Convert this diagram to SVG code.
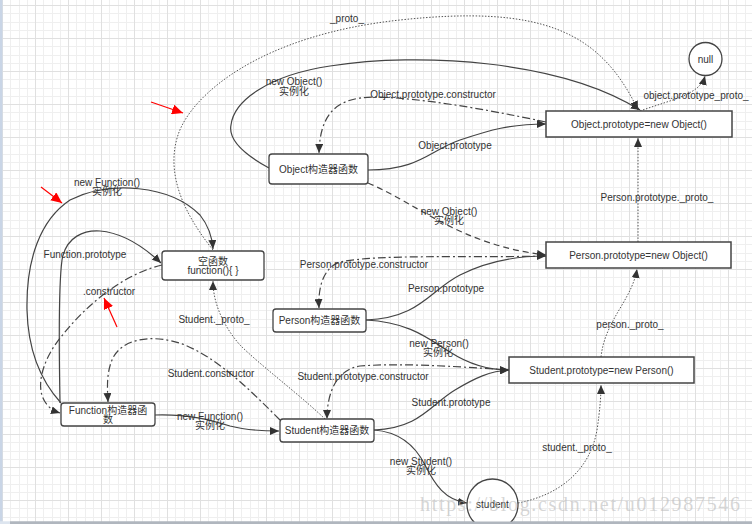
<svg xmlns="http://www.w3.org/2000/svg" width="752" height="524" viewBox="0 0 752 524">
<style>
text{font-family:"Liberation Sans","Noto Sans CJK SC",sans-serif;font-size:10px;fill:#333;text-anchor:middle}
.box{fill:#fff;stroke:#444;stroke-width:1.3}
.pbox{fill:#fff;stroke:#444;stroke-width:1.5}
.c{fill:none;stroke:#444;stroke-width:1.2}
.solid{marker-end:url(#ah)}
.dot{stroke-dasharray:1.5 1.6;stroke-width:1;stroke:#555;marker-end:url(#ah)}
.dd{stroke-dasharray:8 3 2 3;marker-end:url(#ah)}
.dash{stroke-dasharray:6 4;marker-end:url(#ah)}
.red{fill:none;stroke:#f00;stroke-width:1.2;marker-end:url(#rh)}
</style>
<defs>
<pattern id="grid" patternUnits="userSpaceOnUse" x="2" y="5" width="33" height="33">
<rect x="8" y="0" width="1" height="33" fill="#efefef"/>
<rect x="17" y="0" width="1" height="33" fill="#efefef"/>
<rect x="25" y="0" width="1" height="33" fill="#efefef"/>
<rect x="0" y="8" width="33" height="1" fill="#efefef"/>
<rect x="0" y="17" width="33" height="1" fill="#efefef"/>
<rect x="0" y="25" width="33" height="1" fill="#efefef"/>
<rect x="0" y="0" width="1" height="33" fill="#e0e0e0"/>
<rect x="0" y="0" width="33" height="1" fill="#e0e0e0"/>
</pattern>
<marker id="ah" markerUnits="userSpaceOnUse" markerWidth="10" markerHeight="8" refX="9" refY="4" orient="auto">
<path d="M0,0 L9,4 L0,8 z" fill="#333"/>
</marker>
<marker id="rh" markerUnits="userSpaceOnUse" markerWidth="12" markerHeight="10" refX="11" refY="5" orient="auto">
<path d="M0,0 L11,5 L0,10 z" fill="#f00"/>
</marker>
</defs>
<rect width="752" height="524" fill="#fff"/>
<rect width="752" height="524" fill="url(#grid)"/>
<rect x="0" y="0" width="2.5" height="524" fill="#c9d5e6"/>
<rect x="0" y="521.5" width="10" height="2.5" fill="#dde5ef"/>
<rect x="10" y="521.5" width="742" height="2.5" fill="#b0b6be"/>

<g id="connectors">
<path class="c dot" d="M213,250 C185,215 165,175 178,135 S260,35 400,20 S600,30 638,110"/>
<path class="c solid" d="M269,168 C245,155 228,140 231,125 C234,100 270,75 330,66 C420,52 560,60 640,110"/>
<path class="c dd" d="M546,122 C480,108 420,98 375,97 C335,97 320,115 319,153"/>
<path class="c solid" d="M368,170 C420,170 430,150 460,140 C490,130 510,124 546,124"/>
<path class="c dash" d="M368,183 C420,205 460,245 546,255"/>
<path class="c dd" d="M546,256 C460,258 380,254 340,262 C322,268 318,290 319,308"/>
<path class="c solid" d="M366,320 C420,318 430,290 460,275 C490,260 520,256 546,256"/>
<path class="c dot" d="M638,242 L638,138"/>
<path class="c dot" d="M640,111 C670,100 700,95 705,76"/>
<path class="c solid" d="M366,320 C410,322 430,340 450,352 C470,365 490,370 509,370"/>
<path class="c dd" d="M509,370 C450,366 400,363 360,366 C335,370 327,395 327,419"/>
<path class="c solid" d="M374,430 C420,428 430,405 455,390 C475,378 490,371 509,370"/>
<path class="c dot" d="M601,357 C605,320 632,300 637,269"/>
<path class="c dot" d="M518,503 C560,495 590,470 597,430 C600,410 601,395 601,385"/>
<path class="c solid" d="M374,430 C400,432 415,445 425,465 C435,485 445,500 467,503"/>
<path class="c solid" d="M61,403 C40,380 28,350 27,310 C26,260 40,220 70,200 C110,180 170,185 200,215 C208,225 212,235 213,249"/>
<path class="c solid" d="M60,403 C59,350 58,290 62,260 C66,236 85,230 100,231 C125,233 145,248 161,263"/>
<path class="c dd" d="M162,265 C120,275 80,310 55,345 C35,375 35,405 60,413"/>
<path class="c dd" d="M280,420 C250,390 220,360 185,345 C150,332 120,340 112,360 C107,372 107,385 108,402"/>
<path class="c dot" d="M325,419 C300,395 260,365 240,345 C225,328 213,305 213,281"/>
<path class="c solid" d="M155,415 C190,414 210,420 230,426 C245,430 260,431 279,431"/>

<text x="347" y="22">_proto_</text>
<text x="294" y="85">new Object()</text>
<text x="294" y="95">实例化</text>
<text x="433" y="98">Object.prototype.constructor</text>
<text x="455" y="149">Object.prototype</text>
<text x="696" y="99">object.prototype_proto_</text>
<text x="657" y="201">Person.prototype._proto_</text>
<text x="449" y="215">new Object()</text>
<text x="449" y="224">实例化</text>
<text x="364" y="268">Person.prototype.constructor</text>
<text x="446" y="292">Person.prototype</text>
<text x="630" y="328">person._proto_</text>
<text x="439" y="347">new Person()</text>
<text x="438" y="356">实例化</text>
<text x="363" y="380">Student.prototype.constructor</text>
<text x="451" y="406">Student.prototype</text>
<text x="577" y="451">student._proto_</text>
<text x="421" y="465">new Student()</text>
<text x="421" y="474">实例化</text>
<text x="107" y="186">new Function()</text>
<text x="107" y="195">实例化</text>
<text x="85" y="258">Function.prototype</text>
<text x="109" y="295">.constructor</text>
<text x="214" y="323">Student._proto_</text>
<text x="211" y="377">Student.constructor</text>
<text x="210" y="420">new Function()</text>
<text x="210" y="429">实例化</text>
</g>

<g id="null">
<circle cx="705.5" cy="59" r="16.5" fill="#fff" stroke="#444" stroke-width="1.3"/>
<text x="705.5" y="62.5">null</text>
</g>
<g id="object-prototype">
<rect class="pbox" x="546" y="111" width="186" height="26"/>
<text x="639" y="128">Object.prototype=new Object()</text>
</g>
<g id="object-ctor">
<rect class="box" x="269" y="154" width="99" height="30" rx="3"/>
<text x="318.5" y="172.5">Object构造器函数</text>
</g>
<g id="empty-fn">
<rect class="box" x="162" y="251" width="102" height="29" rx="3"/>
<text x="213" y="264.5">空函数</text>
<text x="213" y="274">function(){ }</text>
</g>
<g id="person-prototype">
<rect class="pbox" x="546" y="242" width="185" height="26"/>
<text x="638.5" y="258.5">Person.prototype=new Object()</text>
</g>
<g id="person-ctor">
<rect class="box" x="273" y="309" width="93" height="23" rx="3"/>
<text x="319.5" y="324">Person构造器函数</text>
</g>
<g id="student-prototype">
<rect class="pbox" x="509" y="357" width="185" height="26"/>
<text x="601.5" y="373.5">Student.prototype=new Person()</text>
</g>
<g id="student-ctor">
<rect class="box" x="280" y="419" width="94" height="23" rx="3"/>
<text x="327" y="434">Student构造器函数</text>
</g>
<g id="function-ctor">
<rect class="box" x="61" y="403" width="94" height="23" rx="3"/>
<text x="108" y="413.5">Function构造器函</text>
<text x="108" y="423">数</text>
</g>
<g id="student">
<circle cx="492.5" cy="504.5" r="25.5" fill="#fff" stroke="#444" stroke-width="1.3"/>
<text x="492.5" y="507.5">student</text>
</g>

<g id="annotations">
<path class="red" d="M151,102 L183,113"/>
<path class="red" d="M41,187 L62,203"/>
<path class="red" d="M117,327 L104,298"/>
</g>
<text x="420" y="511" textLength="320" lengthAdjust="spacing" style="font-family:'Liberation Serif',serif;font-size:20px;fill:#bbb;fill-opacity:0.6;text-anchor:start">https://blog.csdn.net/u012987546</text>
<rect x="0" y="521.5" width="10" height="2.5" fill="#dde5ef"/>
<rect x="10" y="521.5" width="742" height="2.5" fill="#b0b6be"/>
</svg>
